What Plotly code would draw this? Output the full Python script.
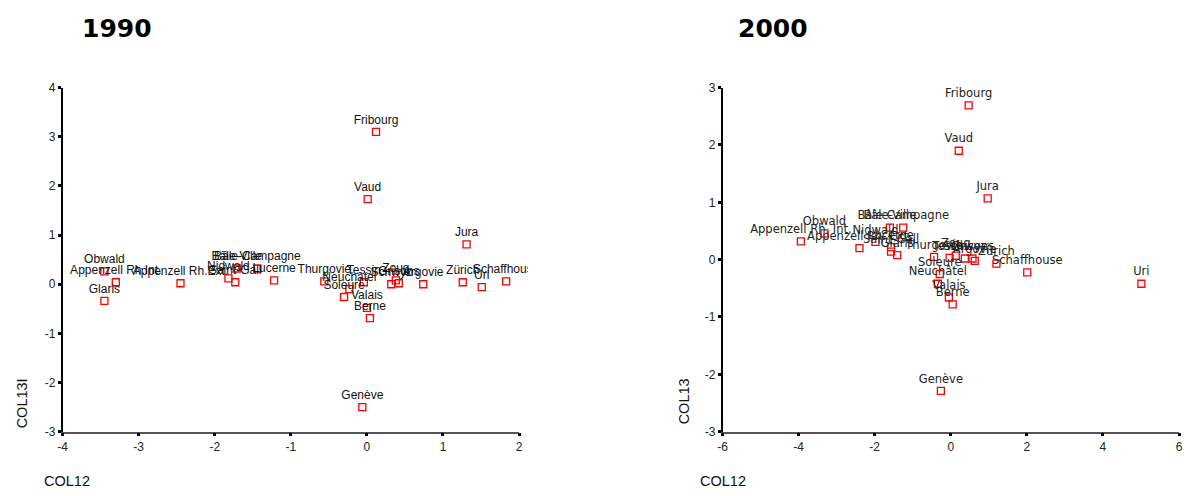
import plotly.graph_objects as go

# Canton coordinates on the first two factorial axes
cantons = ["Zürich", "Berne", "Lucerne", "Uri", "Schwyz", "Obwald", "Nidwald",
           "Glaris", "Zoug", "Fribourg", "Soleure", "Bâle-Ville", "Bâle-Campagne",
           "Schaffhouse", "Appenzell Rh.Ext.", "Appenzell Rh.Int.", "Saint-Gall",
           "Grisons", "Argovie", "Thurgovie", "Tessin", "Vaud", "Valais",
           "Neuchâtel", "Genève", "Jura"]

cantons_2000 = ["Zürich", "Berne", "Lucerne", "Uri", "Schwyz", "Obwald", "Nidwald",
                "Glaris", "Zoug", "Fribourg", "Soleure", "Bâle-Ville", "Bâle-Campagne",
                "Schaffhouse", "Appenzell Rh. Ext.", "Appenzell Rh. Int.", "Saint-Gall",
                "Grisons", "Argovie", "Thurgovie", "Tessin", "Vaud", "Valais",
                "Neuchâtel", "Genève", "Jura"]

col12_1990 = [1.26, 0.04, -1.22, 1.51, 0.32, -3.45, -1.82,
              -3.45, 0.38, 0.12, -0.30, -1.71, -1.44,
              1.83, -2.45, -3.30, -1.73,
              0.42, 0.74, -0.56, -0.04, 0.01, 0.00,
              -0.23, -0.06, 1.31]
col13_1990 = [0.04, -0.69, 0.08, -0.06, 0.00, 0.26, 0.12,
              -0.34, 0.08, 3.10, -0.26, 0.32, 0.32,
              0.06, 0.02, 0.04, 0.04,
              0.02, 0.00, 0.06, 0.04, 1.73, -0.48,
              -0.10, -2.50, 0.81]

col12_2000 = [1.20, 0.05, -1.57, 5.01, 0.37, -3.32, -1.98,
              -1.41, 0.13, 0.47, -0.29, -1.60, -1.25,
              2.01, -2.40, -3.94, -1.57,
              0.57, 0.63, -0.44, -0.03, 0.21, -0.05,
              -0.34, -0.26, 0.97]
col13_2000 = [-0.07, -0.78, 0.22, -0.42, 0.02, 0.46, 0.31,
              0.08, 0.07, 2.69, -0.25, 0.56, 0.56,
              -0.22, 0.20, 0.32, 0.14,
              0.02, -0.02, 0.05, 0.03, 1.90, -0.66,
              -0.42, -2.29, 1.07]

x_ticks_1990 = [-4, -3, -2, -1, 0, 1, 2]
y_ticks_1990 = [-3, -2, -1, 0, 1, 2, 3, 4]
x_ticks_2000 = [-6, -4, -2, 0, 2, 4, 6]
y_ticks_2000 = [-3, -2, -1, 0, 1, 2, 3]

W, H = 1188, 496


def px(v):
    return v / W


def py(v):
    return 1 - v / H


def ascii_labels(vals):
    # plain hyphen for negatives
    return [str(v) for v in vals]


fig = go.Figure()

fig.add_trace(go.Scatter(
    x=col12_1990, y=col13_1990, text=cantons, mode="markers+text",
    textposition="top center",
    textfont=dict(family="Liberation Sans, Arial", size=12, color="#111"),
    marker=dict(symbol="square-open", size=7, color="#ff0000",
                line=dict(width=1.3, color="#ff0000")),
    cliponaxis=False, xaxis="x", yaxis="y", showlegend=False))

fig.add_trace(go.Scatter(
    x=col12_2000, y=col13_2000, text=cantons_2000, mode="markers+text",
    textposition="top center",
    textfont=dict(family="DejaVu Sans, Verdana", size=11.5, color="#222"),
    marker=dict(symbol="square-open", size=7, color="#ff0000",
                line=dict(width=1.3, color="#ff0000")),
    cliponaxis=False, xaxis="x2", yaxis="y2", showlegend=False))

tickfont = dict(family="Liberation Sans, Arial", size=12, color="#222")
axis_common = dict(showgrid=False, zeroline=False, showline=True,
                   ticks="outside", ticklen=3, tickwidth=3, tickcolor="#000",
                   tickfont=tickfont)

fig.update_layout(
    width=W, height=H,
    margin=dict(l=0, r=0, t=0, b=0),
    plot_bgcolor="white", paper_bgcolor="white",
    xaxis=dict(domain=[px(58), px(518)], range=[-4, 2], tickvals=x_ticks_1990,
               ticktext=ascii_labels(x_ticks_1990),
               linecolor="#555", linewidth=1.5, anchor="y", **axis_common),
    yaxis=dict(domain=[py(437), py(83)], range=[-3, 4], tickvals=y_ticks_1990,
               ticktext=ascii_labels(y_ticks_1990),
               linecolor="#000", linewidth=1.5, anchor="x", **axis_common),
    xaxis2=dict(domain=[px(723), px(1183)], range=[-6, 6], tickvals=x_ticks_2000,
                ticktext=ascii_labels(x_ticks_2000),
                linecolor="#555", linewidth=1.5, anchor="y2", **axis_common),
    yaxis2=dict(domain=[py(437), py(83)], range=[-3, 3], tickvals=y_ticks_2000,
                ticktext=ascii_labels(y_ticks_2000),
                linecolor="#000", linewidth=1.5, anchor="x2", **axis_common),
)

# Panel edge: labels running past the 1990 panel are cut off
fig.add_shape(type="rect", xref="paper", yref="paper",
              x0=px(527), x1=px(690), y0=py(460), y1=py(60),
              fillcolor="white", line=dict(width=0), layer="above")

title_font = dict(family="DejaVu Sans, Verdana", size=25, color="#000")
label_font = dict(family="Liberation Sans, Arial", size=14.5, color="#111")

annotations = [
    dict(text="<b>1990</b>", x=px(113), y=py(22), font=title_font),
    dict(text="<b>2000</b>", x=px(774), y=py(22), font=title_font),
    dict(text="COL12", x=px(62), y=py(488), font=label_font),
    dict(text="COL12", x=px(723), y=py(488), font=label_font),
    dict(text="COL13I", x=px(18), y=py(408), font=label_font, textangle=-90),
    dict(text="COL13", x=px(684), y=py(406), font=label_font, textangle=-90),
]
for a in annotations:
    fig.add_annotation(xref="paper", yref="paper", showarrow=False,
                       xanchor="center", yanchor="middle", **a)

fig.write_html("out.html")
